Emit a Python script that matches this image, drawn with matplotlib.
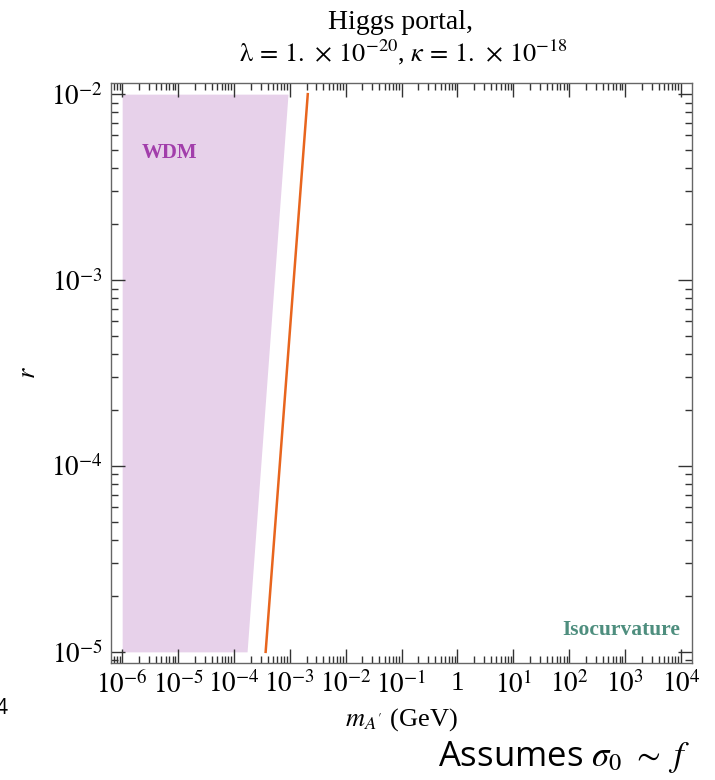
import matplotlib.pyplot as plt
from matplotlib.ticker import FixedLocator, LogLocator, FuncFormatter, NullFormatter
import numpy as np

plt.rcParams['font.family'] = ['Liberation Serif', 'DejaVu Serif']
plt.rcParams['mathtext.fontset'] = 'stix'

# ---- data ----
# WDM excluded band: left edge fixed at 1e-6 GeV, right edge slopes as r^(1/4)
wdm_r = [1e-5, 1e-2]
wdm_m_left = [1e-6, 1e-6]
wdm_m_right = [1.72e-4, 9.3e-4]

# orange boundary line (m_A' vs r)
line_r = [1e-5, 1e-2]
line_m = [3.7e-4, 2.1e-3]

x_decades = np.arange(-6, 5)
y_decades = np.arange(-5, -1)

fig = plt.figure(figsize=(7.15, 7.8), dpi=100)
ax = fig.add_axes([111 / 715, 1 - 663 / 780, (692 - 111) / 715, (663 - 83) / 780])

ax.fill_betweenx(wdm_r, wdm_m_left, wdm_m_right, color='#E7D1EA', lw=0)
ax.plot(line_m, line_r, color='#E8651E', lw=1.8)

ax.set_xscale('log')
ax.set_yscale('log')
ax.set_xlim(10 ** -6.2, 10 ** 4.2)
ax.set_ylim(10 ** -5.06, 10 ** -1.94)

# Mathematica-like frame ticks
ax.xaxis.set_major_locator(FixedLocator(10.0 ** x_decades))
ax.yaxis.set_major_locator(FixedLocator(10.0 ** y_decades))
ax.xaxis.set_minor_locator(LogLocator(base=10, subs=np.arange(2, 10), numticks=60))
ax.yaxis.set_minor_locator(LogLocator(base=10, subs=np.arange(2, 10), numticks=60))
ax.xaxis.set_minor_formatter(NullFormatter())
ax.yaxis.set_minor_formatter(NullFormatter())


def dec_label(v, pos):
    k = int(round(np.log10(v)))
    return '1' if k == 0 else r'$10^{%d}$' % k


ax.xaxis.set_major_formatter(FuncFormatter(dec_label))
ax.yaxis.set_major_formatter(FuncFormatter(dec_label))
ax.tick_params(which='both', direction='in', top=True, right=True,
               color='#333333', width=1.0, labelsize=19.5)
ax.tick_params(which='major', length=10, pad=6)
ax.tick_params(which='minor', length=5)
for s in ax.spines.values():
    s.set_color('#666666')
    s.set_linewidth(1.0)

ax.set_xlabel(r"$m_{A'}$ (GeV)", fontsize=19)
ax.xaxis.set_label_coords(0.5, -0.075)
ax.set_ylabel(r'$r$', fontsize=19)
ax.yaxis.set_label_coords(-0.122, 0.5)

# two-line title
fig.text(401 / 715, 1 - 29 / 780, 'Higgs portal,', fontsize=20, ha='center', va='baseline')
fig.text(403 / 715, 1 - 61 / 780,
         r'$\mathrm{\lambda}\,=\,1.\,\times\,10^{-20}$, $\kappa\,=\,1.\,\times\,10^{-18}$',
         fontsize=19, ha='center', va='baseline')

# region labels
ax.text(10 ** -5.645, 10 ** -2.316, 'WDM', color='#A23EAB', fontsize=15,
        fontweight='bold', ha='left', va='center')
ax.text(10 ** 3.985, 10 ** -4.881, 'Isocurvature', color='#4E8E7E', fontsize=15.5,
        fontweight='bold', ha='right', va='center')

# slide annotations outside the plot
fig.text(690 / 715, 1 - 757 / 780, r'Assumes $\sigma_0\ \sim\ f$', fontsize=25,
         family=['Open Sans', 'DejaVu Sans'], ha='right', va='center')
fig.text(7 / 715, 1 - 708 / 780, '4', fontsize=15, family=['Open Sans', 'DejaVu Sans'],
         ha='right', va='center')

fig.savefig('out.png', dpi=100)
